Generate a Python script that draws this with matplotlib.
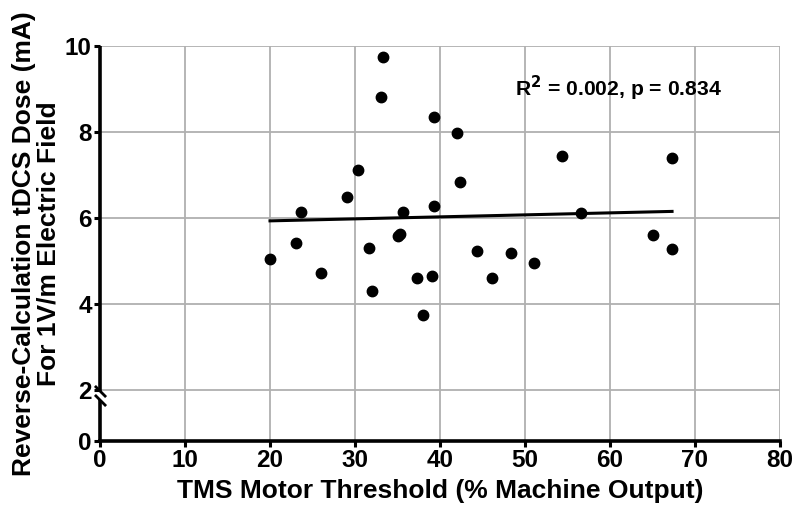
import numpy as np
import matplotlib
matplotlib.use('Agg')
import matplotlib.pyplot as plt

plt.rcParams['font.family'] = ['Liberation Sans', 'DejaVu Sans']
plt.rcParams['font.weight'] = 'bold'

# data
tms_threshold = [20.0, 23.0, 23.6, 26.0, 29.0, 30.3, 31.7, 32.0, 33.0, 33.25,
                 35.0, 35.3, 35.65, 37.3, 38.0, 39.0, 39.3, 39.3, 42.0, 42.35,
                 44.3, 46.1, 48.35, 51.0, 54.3, 56.6, 65.1, 67.3, 67.3]
tdcs_dose = [5.05, 5.43, 6.15, 4.73, 6.50, 7.12, 5.30, 4.32, 8.83, 9.75,
             5.59, 5.63, 6.15, 4.62, 3.75, 4.66, 8.35, 6.29, 7.99, 6.84,
             5.24, 4.61, 5.19, 4.97, 7.45, 6.13, 5.61, 7.41, 5.28]
fit_x = [20.0, 67.3]
fit_y = [5.94, 6.16]
x_ticks = [0, 10, 20, 30, 40, 50, 60, 70, 80]
y_ticks = [0, 2, 4, 6, 8, 10]
stats_text = 'R$^\\mathbf{2}$ = 0.002, p = 0.834'

# compressed segment below 2 (broken axis)
K = 0.59


def fwd(y):
    y = np.asarray(y, dtype=float)
    return np.where(y >= 2, y, 2 - (2 - y) * K)


def inv(v):
    v = np.asarray(v, dtype=float)
    return np.where(v >= 2, v, 2 - (2 - v) / K)


fig = plt.figure(figsize=(7.95, 5.13), dpi=100)
ax = fig.add_axes([100 / 795, 1 - 441 / 513, 680 / 795, (441 - 46.3) / 513])
ax.set_yscale('function', functions=(fwd, inv))
ax.set_xlim(0, 80)
ax.set_ylim(0, 10)

# grid
for gx in x_ticks[1:]:
    ax.axvline(gx, color='#b0b0b0', lw=1.3, zorder=0)
for gy in y_ticks[1:]:
    ax.axhline(gy, color='#b0b0b0', lw=1.3, zorder=0)

ax.plot(fit_x, fit_y, color='black', lw=2.2, zorder=3)
ax.plot(tms_threshold, tdcs_dose, 'o', color='black', ms=7.5, zorder=4)

ax.text(48.8, 8.83, stats_text, fontsize=15.2, fontweight='bold', ha='left', va='baseline')

# spines
for s in ['top', 'right', 'left']:
    ax.spines[s].set_visible(False)
ax.spines['bottom'].set_linewidth(2.6)
tr = ax.get_yaxis_transform()
ax.plot([0, 0], [0, 1.62], transform=tr, color='black', lw=2.6, clip_on=False, solid_capstyle='butt')
ax.plot([0, 0], [1.97, 10], transform=tr, color='black', lw=2.6, clip_on=False, solid_capstyle='butt')
brk = [(-1, 1), (1, -1)]
ax.plot([0, 0], [1.62, 1.97], transform=tr, ls='none', marker=brk, ms=8, mew=2.0,
        color='black', clip_on=False)

ax.set_xticks(x_ticks)
ax.set_yticks(y_ticks)
ax.tick_params(axis='both', width=2.2, length=4, labelsize=17.5, pad=2, color='black')
for lab in ax.get_xticklabels() + ax.get_yticklabels():
    lab.set_fontweight('bold')

ax.set_xlabel('TMS Motor Threshold (% Machine Output)', fontsize=19, fontweight='bold', labelpad=5)
ax.set_ylabel('Reverse-Calculation tDCS Dose (mA)\nFor 1V/m Electric Field', fontsize=19,
              fontweight='bold', labelpad=3, linespacing=1.05)

fig.savefig('out.png', dpi=100)
